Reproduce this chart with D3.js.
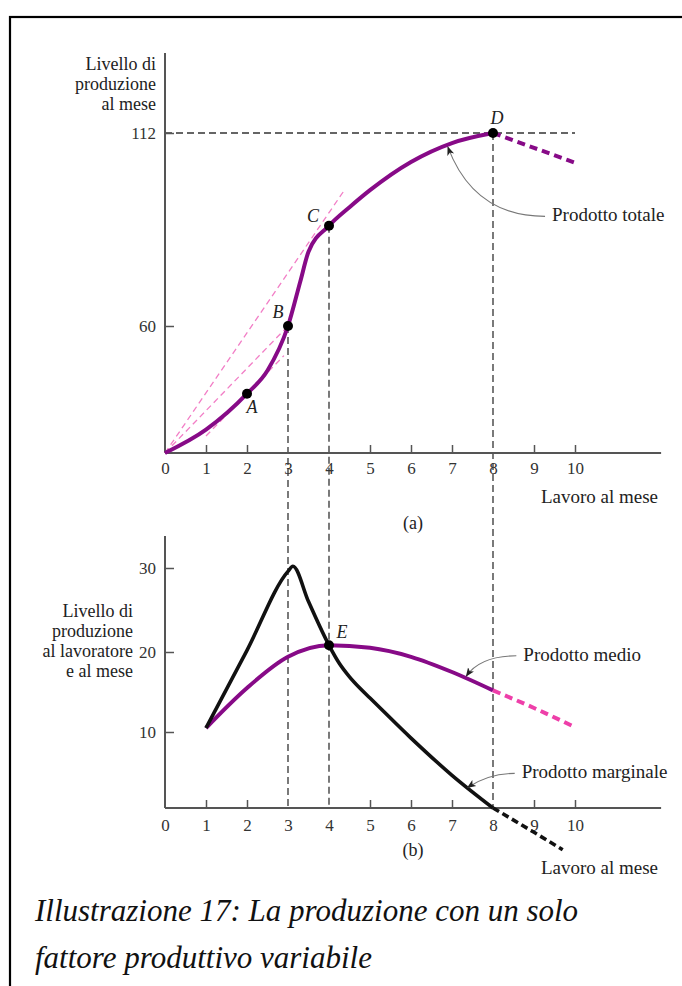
<!DOCTYPE html>
<html>
<head>
<meta charset="utf-8">
<script src="https://cdn.jsdelivr.net/npm/d3@7"></script>
<style>
  body { margin: 0; background: #fff; }
  text { font-family: "Liberation Serif", "Times New Roman", serif; }
</style>
</head>
<body>
<svg id="chart"></svg>
<script>
// labour on the horizontal axis
const laborTicks = [0, 1, 2, 3, 4, 5, 6, 7, 8, 9, 10];
const guideLabor = [3, 4, 8];

// (a) total product
const totalTicks = [60, 112];
const totalL = [0, 1, 2, 2.5, 3, 3.3, 3.5, 4, 4.5, 5, 6, 7, 8];
const totalQ = [0, 11, 28, 39, 60, 72, 80, 87, 92, 96.6, 104.2, 109.3, 112];
const totalDashL = [8, 9, 10];
const totalDashQ = [112, 108, 104];
const pointNames = ["A", "B", "C", "D"];
const pointL = [2, 3, 4, 8];
const pointQ = [28, 60, 87, 112];
// rays / tangent in pink: [L0, Q0, L1, Q1]
const rayLines = [
  [0, 0, 3, 60],
  [0, 0, 4.4, 97],
  [1, 8, 2.9, 46]
];

// (b) average and marginal product
const perWorkerTicks = [10, 20, 30];
const averageL = [1, 2, 3, 4, 5, 6, 7, 8];
const averageQ = [10.5, 15.5, 19.4, 20.8, 20.5, 19.4, 17.5, 15.2];
const averageDashL = [8, 9, 10];
const averageDashQ = [15.2, 13, 10.6];
const marginalL = [1, 2, 3, 3.12, 3.5, 4, 4.25, 4.5, 4.75, 5, 6, 7, 8];
const marginalQ = [10.5, 20.2, 29.6, 30.2, 26, 20.8, 18.6, 16.9, 15.5, 14.25, 9.2, 4.3, 0];
const marginalDashL = [8, 9, 9.7];
const marginalDashQ = [0, -3.2, -5.5];
const pointE = [4, 20.8];

const caption = ["Illustrazione 17: La produzione con un solo", "fattore produttivo variabile"];

function drawChart() {
  const width = 682, height = 986;
  const purple = "#870a87", pink = "#ee3fa9", lightPink = "#f27ec6";
  const axisColor = "#555", textColor = "#222";

  const svg = d3
    .select("#chart")
    .attr("width", width)
    .attr("height", height);

  svg.append("rect").attr("width", width).attr("height", height).attr("fill", "#fff");

  // frame (only top and left edges are visible)
  svg
    .append("rect")
    .attr("x", 10)
    .attr("y", 17)
    .attr("width", width + 20)
    .attr("height", height + 20)
    .attr("fill", "none")
    .attr("stroke", "#000")
    .attr("stroke-width", 2.2);

  // arrow head for the labels
  svg
    .append("defs")
    .append("marker")
    .attr("id", "arrow")
    .attr("viewBox", "0 0 10 10")
    .attr("refX", 9)
    .attr("refY", 5)
    .attr("markerWidth", 9)
    .attr("markerHeight", 9)
    .attr("markerUnits", "userSpaceOnUse")
    .attr("orient", "auto")
    .append("path")
    .attr("d", "M0,1 L10,5 L0,9 L2.5,5 Z")
    .attr("fill", "#222");

  // scales: same labour scale for both panels
  const x = d3.scaleLinear().domain([0, 10]).range([165, 575]);
  // the drawing is schematic, so vertical scales are piecewise
  const yTop = d3.scaleLinear().domain([0, 60, 112]).range([453, 326, 133]);
  const yBot = d3.scaleLinear().domain([0, 10, 20, 30]).range([808, 732, 652, 568]);

  const lineTop = d3.line().x((d) => x(d[0])).y((d) => yTop(d[1])).curve(d3.curveMonotoneX);
  const lineBot = d3.line().x((d) => x(d[0])).y((d) => yBot(d[1])).curve(d3.curveMonotoneX);
  const zip = (a, b) => a.map((v, i) => [v, b[i]]);

  // dashed guides behind everything
  const guides = svg.append("g").attr("stroke", "#333").attr("stroke-width", 1.3).attr("stroke-dasharray", "7,4");
  guides
    .append("line")
    .attr("x1", x(0))
    .attr("x2", x(10))
    .attr("y1", yTop(112))
    .attr("y2", yTop(112));
  guideLabor.forEach((l) => {
    const q = totalQ[totalL.indexOf(l)];
    guides
      .append("line")
      .attr("x1", x(l))
      .attr("x2", x(l))
      .attr("y1", yTop(q))
      .attr("y2", yBot(0));
  });

  // axes (ticks point inward)
  function xAxis(yPos, pad) {
    const g = svg
      .append("g")
      .attr("transform", `translate(0, ${yPos})`)
      .call(d3.axisBottom(x).tickValues(laborTicks).tickSize(-8).tickSizeOuter(0).tickPadding(pad));
    g.select(".domain").remove();
    g.selectAll(".tick line")
      .attr("stroke", axisColor)
      .attr("stroke-width", 1.5)
      .filter((d) => guideLabor.includes(d) || d === 0)
      .remove();
    g.selectAll("text").attr("font-size", 17).attr("fill", "#333").attr("font-family", "Liberation Serif");
    svg
      .append("line")
      .attr("x1", x(0))
      .attr("x2", x(12.1))
      .attr("y1", yPos)
      .attr("y2", yPos)
      .attr("stroke", axisColor)
      .attr("stroke-width", 2);
  }

  function yAxis(scale, ticks, top) {
    const g = svg
      .append("g")
      .attr("transform", `translate(${x(0)}, 0)`)
      .call(d3.axisLeft(scale).tickValues(ticks).tickSize(-9).tickSizeOuter(0).tickPadding(9));
    g.select(".domain").remove();
    g.selectAll(".tick line").attr("stroke", axisColor).attr("stroke-width", 1.5);
    g.selectAll("text").attr("font-size", 17).attr("fill", "#333").attr("font-family", "Liberation Serif");
    svg
      .append("line")
      .attr("x1", x(0))
      .attr("x2", x(0))
      .attr("y1", scale(0))
      .attr("y2", top)
      .attr("stroke", axisColor)
      .attr("stroke-width", 2);
  }

  xAxis(yTop(0), 9);
  yAxis(yTop, totalTicks, 53);
  xAxis(yBot(0), 11);
  yAxis(yBot, perWorkerTicks, 536);

  // pink rays from the origin and tangent at A
  svg
    .append("g")
    .selectAll("line")
    .data(rayLines)
    .join("line")
    .attr("x1", (d) => x(d[0]))
    .attr("y1", (d) => yTop(d[1]))
    .attr("x2", (d) => x(d[2]))
    .attr("y2", (d) => yTop(d[3]))
    .attr("stroke", lightPink)
    .attr("stroke-width", 1.3)
    .attr("stroke-dasharray", "6,4");

  // total product
  svg
    .append("path")
    .datum(zip(totalL, totalQ))
    .attr("fill", "none")
    .attr("stroke", purple)
    .attr("stroke-width", 4)
    .attr("d", lineTop);
  svg
    .append("path")
    .datum(zip(totalDashL, totalDashQ))
    .attr("fill", "none")
    .attr("stroke", purple)
    .attr("stroke-width", 4)
    .attr("stroke-dasharray", "8,5")
    .attr("d", lineTop);

  // average product
  svg
    .append("path")
    .datum(zip(averageL, averageQ))
    .attr("fill", "none")
    .attr("stroke", purple)
    .attr("stroke-width", 4)
    .attr("d", lineBot);
  svg
    .append("path")
    .datum(zip(averageDashL, averageDashQ))
    .attr("fill", "none")
    .attr("stroke", pink)
    .attr("stroke-width", 4)
    .attr("stroke-dasharray", "8,5")
    .attr("d", lineBot);

  // marginal product
  svg
    .append("path")
    .datum(zip(marginalL, marginalQ))
    .attr("fill", "none")
    .attr("stroke", "#111")
    .attr("stroke-width", 3.6)
    .attr("stroke-linejoin", "round")
    .attr("d", lineBot);
  svg
    .append("path")
    .datum(zip(marginalDashL, marginalDashQ))
    .attr("fill", "none")
    .attr("stroke", "#111")
    .attr("stroke-width", 3.6)
    .attr("stroke-dasharray", "7,4")
    .attr("d", lineBot);

  // points A-D and E
  const labelOffset = { A: [5, 19], B: [-10, -8], C: [-16, -4], D: [4, -9], E: [13, -7] };
  const pts = pointNames
    .map((n, i) => ({ name: n, px: x(pointL[i]), py: yTop(pointQ[i]) }))
    .concat([{ name: "E", px: x(pointE[0]), py: yBot(pointE[1]) }]);
  svg
    .append("g")
    .selectAll("circle")
    .data(pts)
    .join("circle")
    .attr("cx", (d) => d.px)
    .attr("cy", (d) => d.py)
    .attr("r", 5)
    .attr("fill", "#000");
  svg
    .append("g")
    .selectAll("text")
    .data(pts)
    .join("text")
    .attr("x", (d) => d.px + labelOffset[d.name][0])
    .attr("y", (d) => d.py + labelOffset[d.name][1])
    .attr("text-anchor", "middle")
    .attr("font-size", 18)
    .attr("font-style", "italic")
    .attr("fill", textColor)
    .text((d) => d.name);

  // curve labels with curved arrows: [text L, text Q, tip L, tip Q]
  function annotate(label, yScale, tx, tq, tipL, tipQ) {
    const sx = x(tx), sy = yScale(tq);
    const ex = x(tipL), ey = yScale(tipQ);
    svg
      .append("path")
      .attr("d", `M${sx - 7},${sy - 5} Q${ex + (sx - ex) * 0.25},${sy - 5} ${ex},${ey}`)
      .attr("fill", "none")
      .attr("stroke", "#777")
      .attr("stroke-width", 1.1)
      .attr("marker-end", "url(#arrow)");
    svg
      .append("text")
      .attr("x", sx)
      .attr("y", sy)
      .attr("font-size", 19)
      .attr("fill", textColor)
      .text(label);
  }
  annotate("Prodotto totale", yTop, 9.44, 88.2, 6.9, 108.2);
  annotate("Prodotto medio", yBot, 8.74, 18.9, 7.35, 17.0);

  // marginal arrow bends the other way
  const mx = x(8.7), my = yBot(3.9);
  svg
    .append("path")
    .attr("d", `M${mx - 7},${my - 5} Q${x(7.9)},${my - 5} ${x(7.38)},${yBot(2.7)}`)
    .attr("fill", "none")
    .attr("stroke", "#777")
    .attr("stroke-width", 1.1)
    .attr("marker-end", "url(#arrow)");
  svg
    .append("text")
    .attr("x", mx)
    .attr("y", my)
    .attr("font-size", 19)
    .attr("fill", textColor)
    .text("Prodotto marginale");

  // axis titles
  const titleTop = ["Livello di", "produzione", "al mese"];
  svg
    .append("g")
    .selectAll("text")
    .data(titleTop)
    .join("text")
    .attr("x", 156)
    .attr("y", (d, i) => 70 + i * 20)
    .attr("text-anchor", "end")
    .attr("font-size", 18)
    .attr("fill", textColor)
    .text((d) => d);

  const titleBot = ["Livello di", "produzione", "al lavoratore", "e al mese"];
  svg
    .append("g")
    .selectAll("text")
    .data(titleBot)
    .join("text")
    .attr("x", 133)
    .attr("y", (d, i) => 617 + i * 20)
    .attr("text-anchor", "end")
    .attr("font-size", 18)
    .attr("fill", textColor)
    .text((d) => d);

  [["Lavoro al mese", 503], ["Lavoro al mese", 874]].forEach(([t, yy]) => {
    svg
      .append("text")
      .attr("x", 658)
      .attr("y", yy)
      .attr("text-anchor", "end")
      .attr("font-size", 19)
      .attr("fill", textColor)
      .text(t);
  });
  [["(a)", 529], ["(b)", 856]].forEach(([t, yy]) => {
    svg
      .append("text")
      .attr("x", 413)
      .attr("y", yy)
      .attr("text-anchor", "middle")
      .attr("font-size", 18)
      .attr("fill", textColor)
      .text(t);
  });

  // caption
  svg
    .append("g")
    .selectAll("text")
    .data(caption)
    .join("text")
    .attr("x", 35)
    .attr("y", (d, i) => 921 + i * 47)
    .attr("font-size", 31)
    .attr("font-style", "italic")
    .attr("fill", "#111")
    .text((d) => d);
}

drawChart();
</script>
</body>
</html>
